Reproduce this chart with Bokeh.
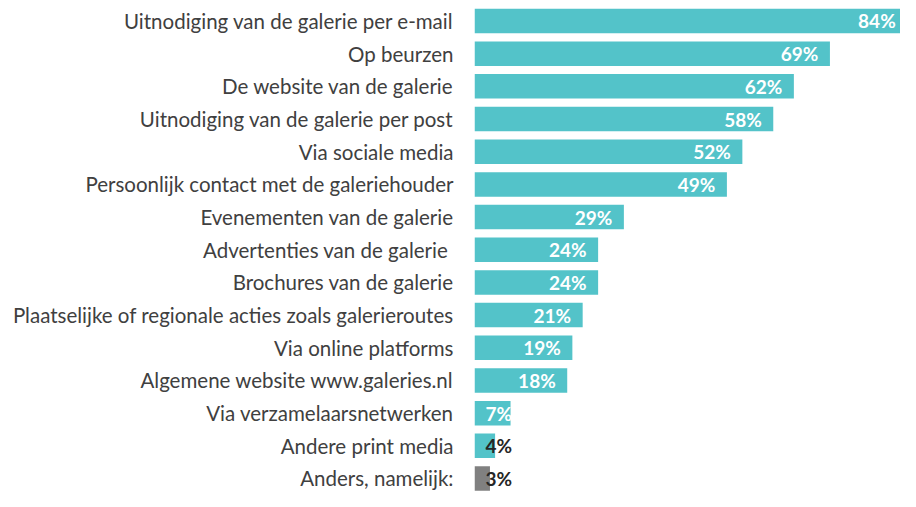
from bokeh.plotting import figure
from bokeh.models import Range1d, FixedTicker, ColumnDataSource
from bokeh.embed import file_html
from bokeh.resources import INLINE
from bokeh.core.properties import value

categories = [
    "Uitnodiging van de galerie per e-mail",
    "Op beurzen",
    "De website van de galerie",
    "Uitnodiging van de galerie per post",
    "Via sociale media",
    "Persoonlijk contact met de galeriehouder",
    "Evenementen van de galerie",
    "Advertenties van de galerie ",
    "Brochures van de galerie",
    "Plaatselijke of regionale acties zoals galerieroutes",
    "Via online platforms",
    "Algemene website www.galeries.nl",
    "Via verzamelaarsnetwerken",
    "Andere print media",
    "Anders, namelijk:",
]
percentages = [84, 69, 62, 58, 52, 49, 29, 24, 24, 21, 19, 18, 7, 4, 3]

TEAL = "#53C3C9"
GREY = "#808080"
LABEL_FONT = "Lato"

idx = list(range(len(categories)))
colors = [GREY if c.startswith("Anders") else TEAL for c in categories]
labels = [f"{v}%" for v in percentages]
txt_colors = ["#FFFFFF" if v >= 5 else "#262626" for v in percentages]

src = ColumnDataSource(dict(y=idx, v=percentages, color=colors))

big = [i for i, v in enumerate(percentages) if v >= 10]
small = [i for i, v in enumerate(percentages) if v < 10]
src_big = ColumnDataSource(dict(y=[idx[i] for i in big], v=[percentages[i] for i in big],
                                lab=[labels[i] for i in big], tc=[txt_colors[i] for i in big]))
src_small = ColumnDataSource(dict(y=[idx[i] for i in small], x0=[0] * len(small),
                                  lab=[labels[i] for i in small], tc=[txt_colors[i] for i in small]))

p = figure(width=900, height=491,
           x_range=Range1d(0, 82.7), y_range=Range1d(14.398, -0.627),
           output_backend="svg", toolbar_location=None,
           min_border_left=474, min_border_right=0, min_border_top=0, min_border_bottom=0)

p.hbar(y="y", left=0, right="v", height=0.75, fill_color="color", line_color=None, source=src)

p.text(x="v", y="y", text="lab", text_color="tc", source=src_big,
       text_align="right", text_baseline="middle", x_offset=-11.5,
       text_font=value(LABEL_FONT), text_font_style="bold", text_font_size="19px")
p.text(x="x0", y="y", text="lab", text_color="tc", source=src_small,
       text_align="left", text_baseline="middle", x_offset=11,
       text_font=value(LABEL_FONT), text_font_style="bold", text_font_size="19px")

p.xaxis.visible = False
p.xgrid.visible = False
p.ygrid.visible = False
p.outline_line_color = None

ya = p.yaxis[0]
ya.ticker = FixedTicker(ticks=idx)
ya.major_label_overrides = {i: c for i, c in zip(idx, categories)}
ya.axis_line_color = None
ya.major_tick_line_color = None
ya.minor_tick_line_color = None
ya.major_tick_out = 0
ya.major_tick_in = 0
ya.major_label_standoff = 21
ya.major_label_text_font = LABEL_FONT
ya.major_label_text_font_size = "20.5px"
ya.major_label_text_color = "#404040"

open("out.html", "w").write(file_html(p, INLINE))
